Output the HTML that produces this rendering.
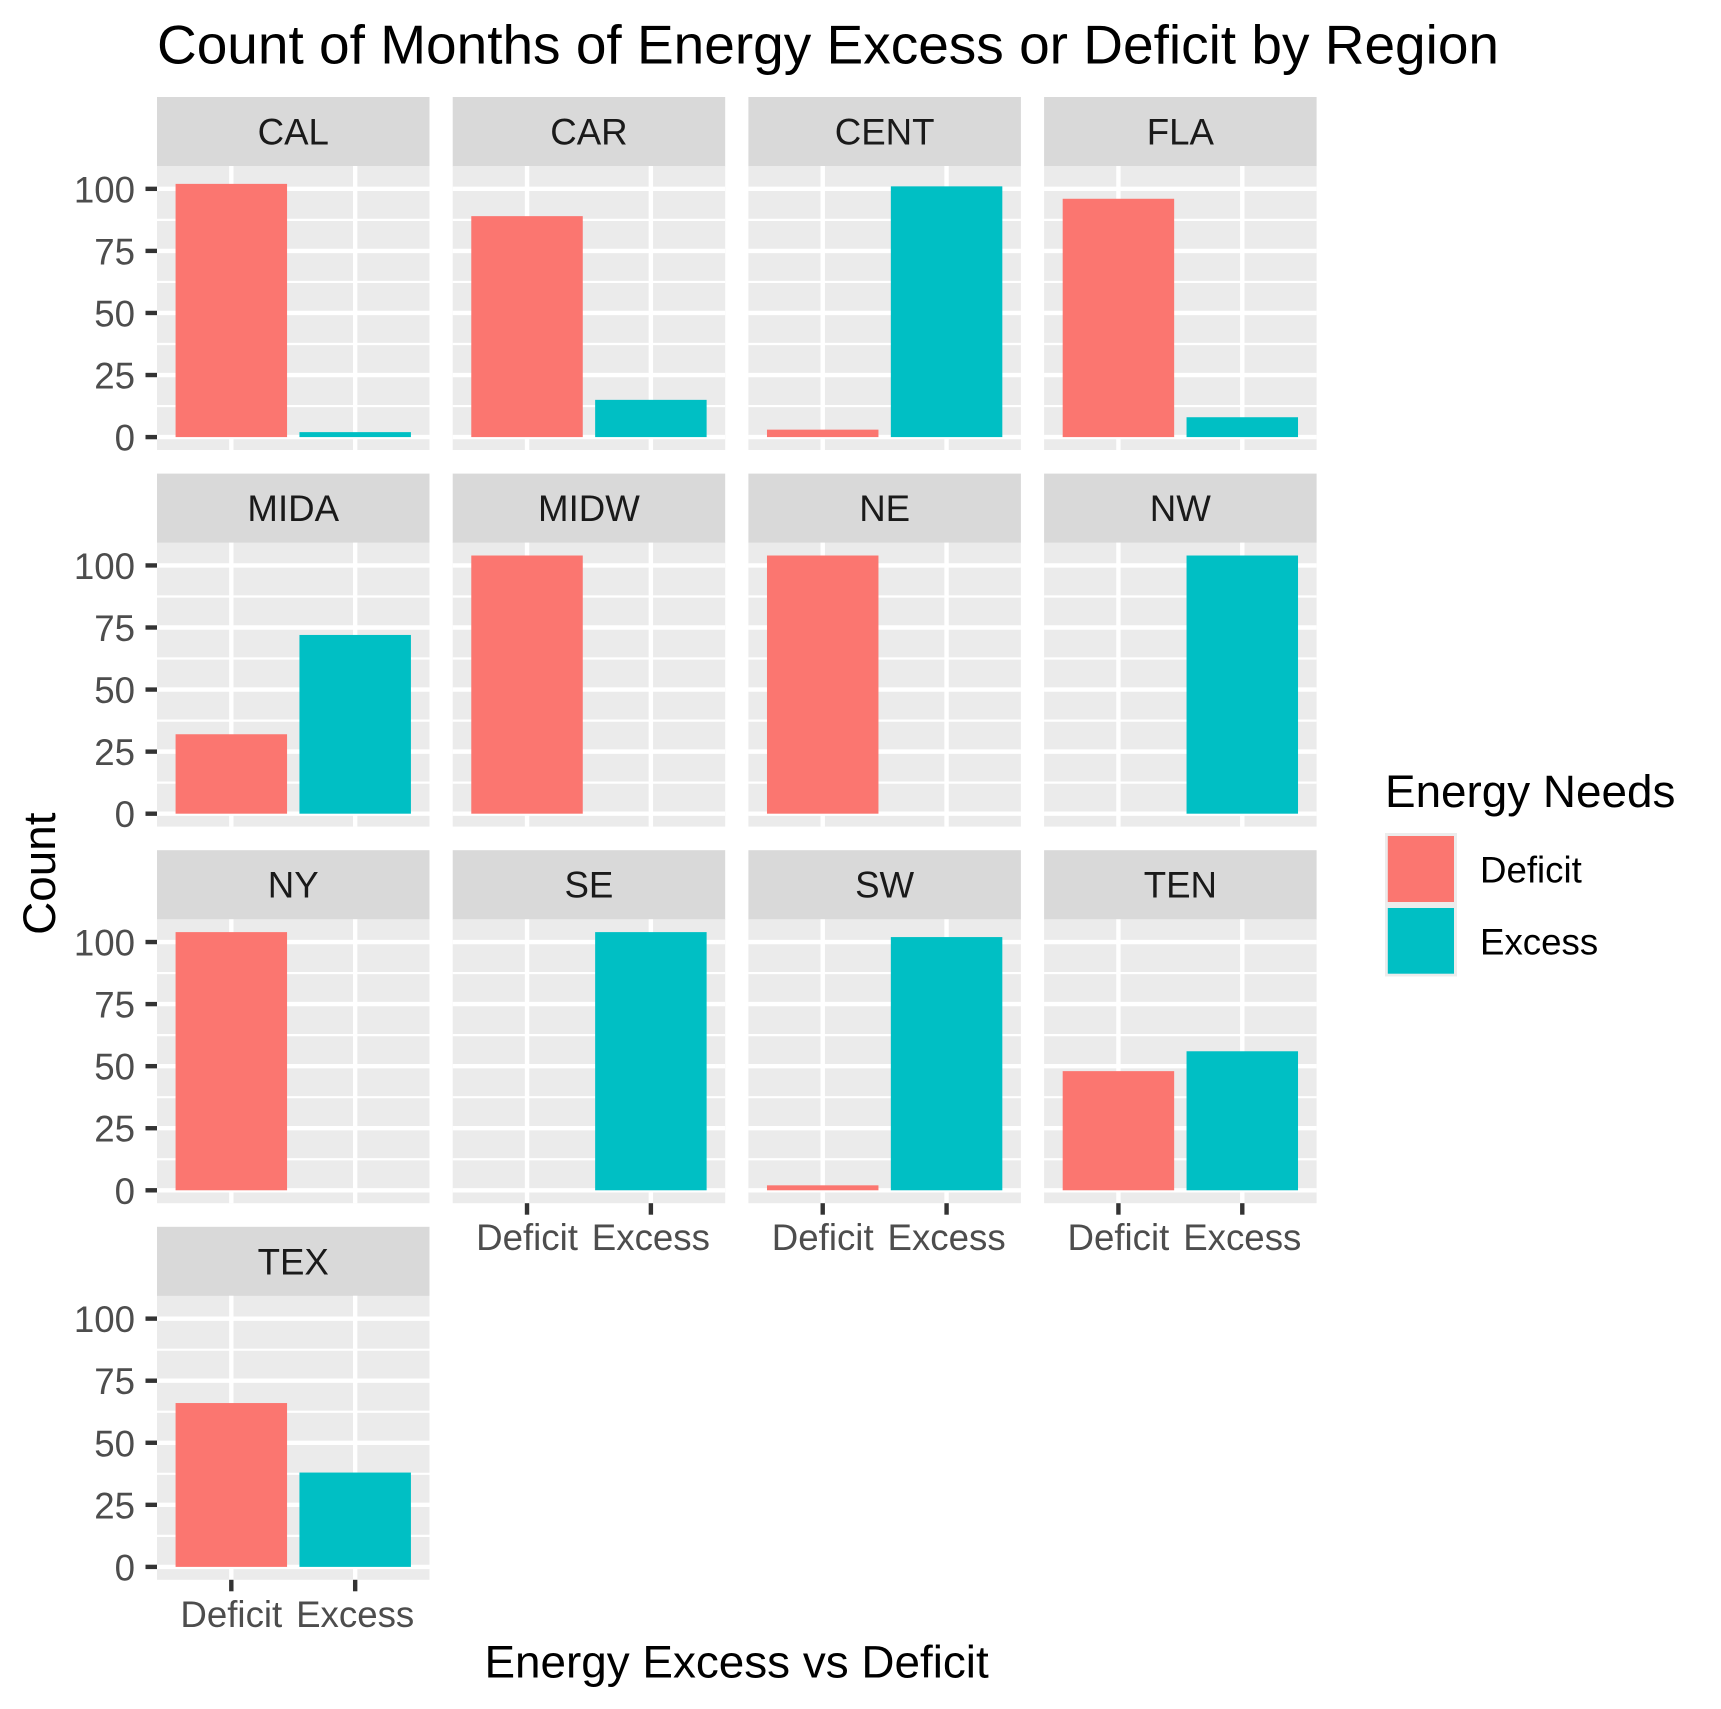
<!DOCTYPE html>
<html lang="en">
<head>
<meta charset="utf-8">
<title>Count of Months of Energy Excess or Deficit by Region</title>
<style>
html,body{margin:0;padding:0;background:#fff;}
body{width:1721px;height:1709px;overflow:hidden;}
svg{display:block;font-family:"Liberation Sans",Arial,sans-serif;}
</style>
</head>
<body>
<svg id="chart" xmlns="http://www.w3.org/2000/svg" width="1721" height="1709" viewBox="0 0 1721 1709">
  <rect x="0" y="0" width="1721" height="1709" fill="#ffffff"/>
  <text x="157" y="63.5" font-size="55" fill="#000000">Count of Months of Energy Excess or Deficit by Region</text>
  <text x="736.6" y="1677.5" font-size="45.83" fill="#000000" text-anchor="middle">Energy Excess vs Deficit</text>
  <text transform="translate(55,873.7) rotate(-90)" font-size="45.83" fill="#000000" text-anchor="middle">Count</text>
  <g id="panels"></g>
  <g id="legend">
    <text x="1385" y="806.8" font-size="45.83" fill="#000000">Energy Needs</text>
    <rect x="1385" y="833" width="72" height="72" fill="#ececec"/>
    <rect x="1385" y="905" width="72" height="71.5" fill="#ececec"/>
    <rect x="1387.8" y="836" width="66.2" height="66" fill="#fb7670"/>
    <rect x="1387.8" y="908" width="66.2" height="65.7" fill="#00bfc4"/>
    <text x="1480" y="882.5" font-size="36.67" fill="#000000">Deficit</text>
    <text x="1480" y="954.5" font-size="36.67" fill="#000000">Excess</text>
  </g>
</svg>
<script>
const regions = ["CAL","CAR","CENT","FLA","MIDA","MIDW","NE","NW","NY","SE","SW","TEN","TEX"];
const deficitCounts = [102,89,3,96,32,104,104,0,104,0,2,48,66];
const excessCounts = [2,15,101,8,72,0,0,104,0,104,102,56,38];
const categories = ["Deficit","Excess"];
const yTickLabels = [0,25,50,75,100];
const yMinorBreaks = [12.5,37.5,62.5,87.5];

const NS = "http://www.w3.org/2000/svg";
const root = document.getElementById("panels");
const columns = 4;
const panelLeft0 = 157, panelStepX = 295.7, panelWidth = 272.5;
const stripTop0 = 97, panelStepY = 376.6, stripHeight = 69, panelHeight = 284;
const yExpand = 0.05, xExpand = 0.6, barWidth = 0.9;
const barColors = ["#fb7670","#00bfc4"];

function make(tag, attrs, parent, content) {
  const node = document.createElementNS(NS, tag);
  for (const key in attrs) node.setAttribute(key, attrs[key]);
  if (content !== undefined) node.textContent = content;
  parent.appendChild(node);
  return node;
}
const yMax = Math.max(...deficitCounts, ...excessCounts);
function yScale(value, top) {
  const span = yMax * (1 + 2 * yExpand);
  return top + panelHeight - (value + yMax * yExpand) / span * panelHeight;
}
function xScale(position, left) {
  const span = categories.length - 1 + 2 * xExpand;
  return left + (position + xExpand) / span * panelWidth;
}

regions.forEach(function (region, index) {
  const col = index % columns;
  const row = Math.floor(index / columns);
  const left = panelLeft0 + col * panelStepX;
  const stripTop = stripTop0 + row * panelStepY;
  const top = stripTop + stripHeight;
  const hasXAxis = index + columns >= regions.length;
  const hasYAxis = col === 0;

  const group = make("g", {}, root);
  
  

  const strip = make("rect", {x: left, y: stripTop, width: panelWidth, height: stripHeight + 0.5, fill: "#d9d9d9"}, group);
  
  

  const stripLabel = make("text", {x: left + panelWidth / 2, y: stripTop + 47.5, "font-size": 36.67, fill: "#1a1a1a", "text-anchor": "middle"}, group, region);
  
  

  const bg = make("rect", {x: left, y: top, width: panelWidth, height: panelHeight, fill: "#ebebeb"}, group);
  
  

  yMinorBreaks.forEach(function (v) {
    const y = yScale(v, top);
    const line = make("line", {x1: left, x2: left + panelWidth, y1: y, y2: y, stroke: "#ffffff", "stroke-width": 2.2}, group);
    
    
  });
  yTickLabels.forEach(function (v) {
    const y = yScale(v, top);
    const line = make("line", {x1: left, x2: left + panelWidth, y1: y, y2: y, stroke: "#ffffff", "stroke-width": 4.4}, group);
    
    
  });
  categories.forEach(function (c, i) {
    const x = xScale(i, left);
    const line = make("line", {x1: x, x2: x, y1: top, y2: top + panelHeight, stroke: "#ffffff", "stroke-width": 4.4}, group);
    
    
  });

  [deficitCounts[index], excessCounts[index]].forEach(function (v, i) {
    const cx = xScale(i, left);
    const halfBar = (xScale(barWidth, left) - xScale(0, left)) / 2;
    const yTop = yScale(v, top);
    const bar = make("rect", {x: cx - halfBar, y: yTop, width: 2 * halfBar, height: yScale(0, top) - yTop, fill: barColors[i]}, group);
    
    
  });

  if (hasYAxis) {
    yTickLabels.forEach(function (v) {
      const y = yScale(v, top);
      const tick = make("line", {x1: left - 11.5, x2: left, y1: y, y2: y, stroke: "#333333", "stroke-width": 4.4}, group);
      
      
      const label = make("text", {x: left - 22, y: y + 13.5, "font-size": 36.67, fill: "#4d4d4d", "text-anchor": "end"}, group, String(v));
      
      
    });
  }
  if (hasXAxis) {
    categories.forEach(function (c, i) {
      const x = xScale(i, left);
      const tick = make("line", {x1: x, x2: x, y1: top + panelHeight, y2: top + panelHeight + 11.5, stroke: "#333333", "stroke-width": 4.4}, group);
      
      
      const label = make("text", {x: x, y: top + panelHeight + 47, "font-size": 36.67, fill: "#4d4d4d", "text-anchor": "middle"}, group, c);
      
      
    });
  }
});
</script>
</body>
</html>
